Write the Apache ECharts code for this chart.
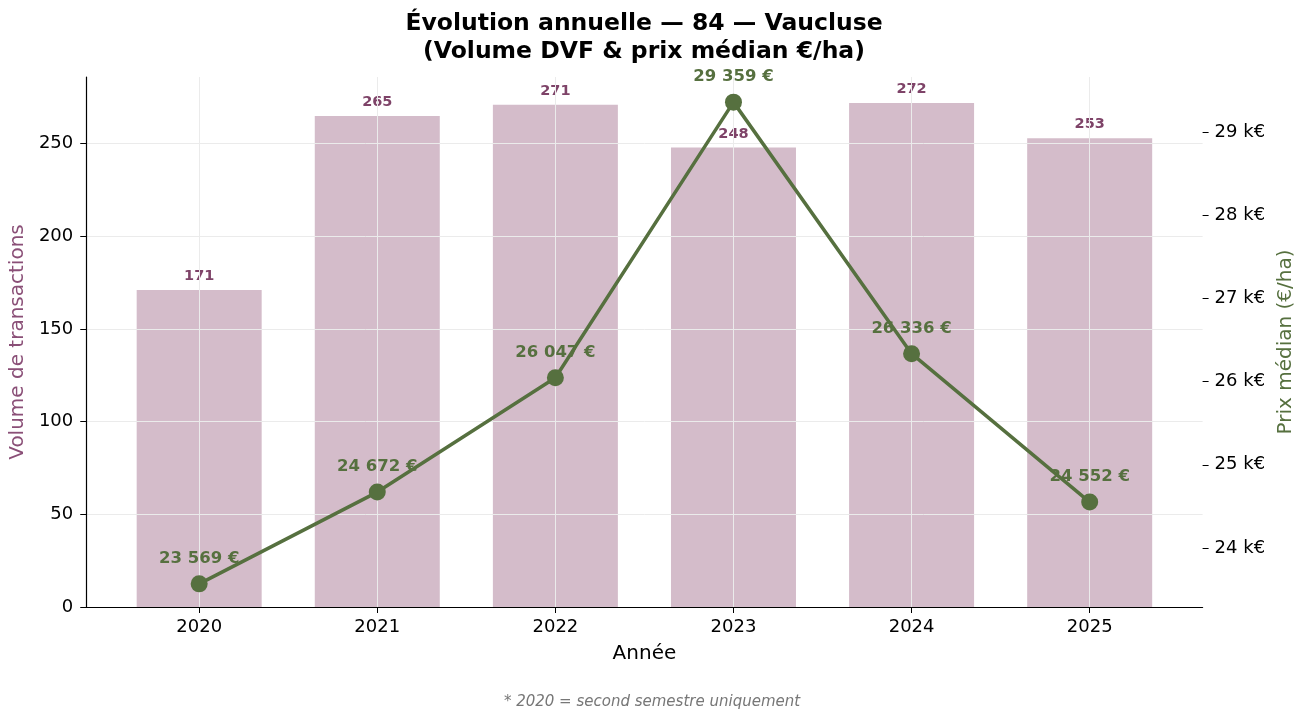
<!DOCTYPE html>
<html>
<head>
<meta charset="utf-8">
<script src="https://cdn.jsdelivr.net/npm/echarts@6/dist/echarts.min.js"></script>
<style>
  html, body { margin: 0; padding: 0; background: #fff; }
  #main { width: 1304px; height: 719px; }
</style>
</head>
<body>
<div id="main"></div>
<script>
// données
var annees = ['2020', '2021', '2022', '2023', '2024', '2025'];
var volumes = [171, 265, 271, 248, 272, 253];
var prixMedian = [23569, 24672, 26047, 29359, 26336, 24552];
var ticksVolume = [0, 50, 100, 150, 200, 250];
var ticksPrix = [24000, 25000, 26000, 27000, 28000, 29000];

var FONT = 'DejaVu Sans';
var couleurBarre = '#d4bcca';
var couleurBarreTexte = '#7e4368';
var couleurLigne = '#56703f';

function formatEuro(v) {
  return String(v).replace(/\B(?=(\d{3})+(?!\d))/g, ' ') + ' €';
}

var myChart = echarts.init(document.getElementById('main'));

var idx = annees.map(function (a, i) { return i; });

var option = {
  animation: false,
  backgroundColor: '#fff',
  title: [
    {
      text: 'Évolution annuelle — 84 — Vaucluse\n(Volume DVF & prix médian €/ha)',
      left: 639,
      top: 5,
      textAlign: 'center',
      textStyle: {
        fontFamily: FONT,
        fontSize: 23.5,
        fontWeight: 'bold',
        color: '#000',
        lineHeight: 28
      }
    },
    {
      text: '* 2020 = second semestre uniquement',
      left: 647,
      top: 690,
      textAlign: 'center',
      textStyle: {
        fontFamily: FONT,
        fontSize: 15,
        fontStyle: 'italic',
        fontWeight: 'normal',
        color: '#777'
      }
    }
  ],
  grid: {
    left: 85,
    right: 101,
    top: 77,
    bottom: 112
  },
  xAxis: {
    type: 'value',
    min: -0.634,
    max: 5.634,
    z: 3,
    name: 'Année',
    nameLocation: 'middle',
    nameGap: 37,
    nameTextStyle: { fontFamily: FONT, fontSize: 20, color: '#000' },
    axisLine: { show: true, onZero: false, lineStyle: { color: '#000', width: 1.2 } },
    axisTick: { show: true, length: 6, lineStyle: { color: '#000' }, customValues: idx },
    axisLabel: {
      customValues: idx,
      margin: 11,
      fontFamily: FONT,
      fontSize: 18,
      color: '#000',
      formatter: function (v) { return annees[Math.round(v)]; }
    },
    splitLine: { show: true, lineStyle: { color: '#ebebeb', width: 1 } }
  },
  yAxis: [
    {
      type: 'value',
      min: 0,
      max: 286,
      z: 3,
      name: 'Volume de transactions',
      nameLocation: 'middle',
      nameGap: 56,
      nameTextStyle: { fontFamily: FONT, fontSize: 20, color: '#8a4f77' },
      axisLine: { show: true, onZero: false, lineStyle: { color: '#000', width: 1.2 } },
      axisTick: { show: true, length: 6, lineStyle: { color: '#000' }, customValues: ticksVolume },
      axisLabel: {
        customValues: ticksVolume,
        margin: 13,
        fontFamily: FONT,
        fontSize: 18,
        color: '#000'
      },
      splitLine: { show: true, lineStyle: { color: '#ebebeb', width: 1 } }
    },
    {
      type: 'value',
      min: 23291,
      max: 29661,
      position: 'right',
      name: 'Prix médian (€/ha)',
      nameLocation: 'middle',
      nameGap: 71,
      nameTextStyle: { fontFamily: FONT, fontSize: 20, color: '#56703f' },
      axisLine: { show: false, onZero: false },
      axisTick: { show: true, length: 6, lineStyle: { color: '#000' }, customValues: ticksPrix },
      axisLabel: {
        customValues: ticksPrix,
        margin: 12,
        fontFamily: FONT,
        fontSize: 18,
        color: '#000',
        formatter: function (v) { return Math.round(v / 1000) + ' k€'; }
      },
      splitLine: { show: false }
    }
  ],
  series: [
    {
      name: 'Volume',
      type: 'bar',
      yAxisIndex: 0,
      z: 1,
      barWidth: 125,
      data: volumes.map(function (v, i) { return [i, v]; }),
      itemStyle: { color: couleurBarre },
      label: {
        show: true,
        position: 'top',
        distance: 6,
        fontFamily: FONT,
        fontSize: 14.5,
        fontWeight: 'bold',
        color: couleurBarreTexte,
        formatter: function (p) { return p.value[1]; }
      }
    },
    {
      name: 'Prix médian',
      type: 'line',
      yAxisIndex: 1,
      z: 10,
      data: prixMedian.map(function (v, i) { return [i, v]; }),
      symbol: 'circle',
      symbolSize: 17,
      lineStyle: { color: couleurLigne, width: 3.5 },
      itemStyle: { color: couleurLigne },
      label: {
        show: true,
        position: 'top',
        distance: 8,
        fontFamily: FONT,
        fontSize: 16.5,
        fontWeight: 'bold',
        color: couleurLigne,
        formatter: function (p) { return formatEuro(p.value[1]); }
      }
    }
  ]
};

myChart.setOption(option);
</script>
</body>
</html>
